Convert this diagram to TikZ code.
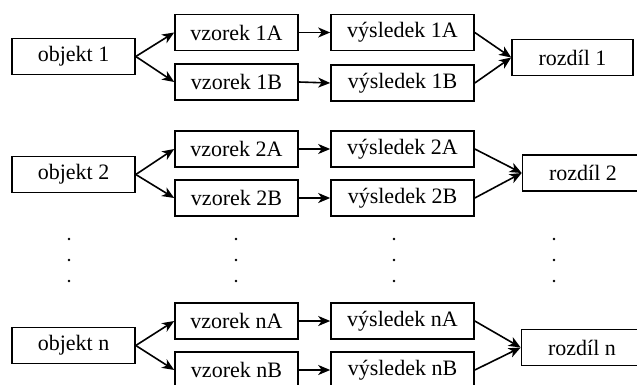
\documentclass[tikz,border=0pt]{standalone}
\usepackage{fontspec}
\setmainfont{Liberation Serif}
\newfontfamily\boxfont{Liberation Serif}
\usetikzlibrary{arrows.meta}
\begin{document}
\begin{tikzpicture}[x=1pt,y=-1pt,
  box/.style={draw, line width=1.6pt, inner sep=0pt, minimum height=36pt,
    font=\boxfont\fontsize{22}{26}\selectfont},
  objbox/.style={box, minimum width=123pt},
  smpbox/.style={box, minimum width=123pt},
  resbox/.style={box, minimum width=143pt},
  difbox/.style={box, minimum width=121pt},
  conn/.style={line width=1.6pt, -{Stealth[length=12pt,width=10pt,inset=3.5pt]}},
  dotmark/.style={circle, fill, inner sep=0pt, minimum size=2.8pt}]
\useasboundingbox (0,0) rectangle (637,385);
\clip (0,0) rectangle (637,385);

% group 1
\node[objbox] (o1) at (73.5,56.5) {objekt 1};
\node[smpbox] (s1a) at (236.5,32.5) {vzorek 1A};
\node[smpbox] (s1b) at (236.5,82) {vzorek 1B};
\node[resbox] (r1a) at (402.5,32.5) {výsledek 1A};
\node[resbox] (r1b) at (402.5,83) {výsledek 1B};
\node[difbox] (d1) at (572.5,57.5) {rozdíl 1};

% group 2
\node[objbox] (o2) at (73.5,174.5) {objekt 2};
\node[smpbox] (s2a) at (236.5,149) {vzorek 2A};
\node[smpbox] (s2b) at (236.5,198) {vzorek 2B};
\node[resbox] (r2a) at (402.5,149) {výsledek 2A};
\node[resbox] (r2b) at (402.5,198) {výsledek 2B};
\node[difbox] (d2) at (583,173) {rozdíl 2};

% group n
\node[objbox] (on) at (73.5,345.5) {objekt n};
\node[smpbox] (sna) at (236.5,321) {vzorek nA};
\node[smpbox] (snb) at (236.5,370) {vzorek nB};
\node[resbox] (rna) at (402.5,321) {výsledek nA};
\node[resbox] (rnb) at (402.5,370) {výsledek nB};
\node[difbox] (dn) at (582,347.5) {rozdíl n};

% connectors
\foreach \g in {1,2,n}{
  \draw[conn] (o\g.east) -- (s\g a.west);
  \draw[conn] (o\g.east) -- (s\g b.west);
  \draw[conn] (s\g a.east) -- (r\g a.west);
  \draw[conn] (s\g b.east) -- (r\g b.west);
  \draw[conn] (r\g a.east) -- (d\g.west);
  \draw[conn] (r\g b.east) -- (d\g.west);
}

% ellipsis dots between groups
\foreach \cx/\k in {69/a,236/b,394/c,554/d}{
  \foreach \cy/\j in {239/1,260/2,281/3}{
    \node[dotmark] (dot\k\j) at (\cx,\cy) {};
  }
}
\end{tikzpicture}
\end{document}
